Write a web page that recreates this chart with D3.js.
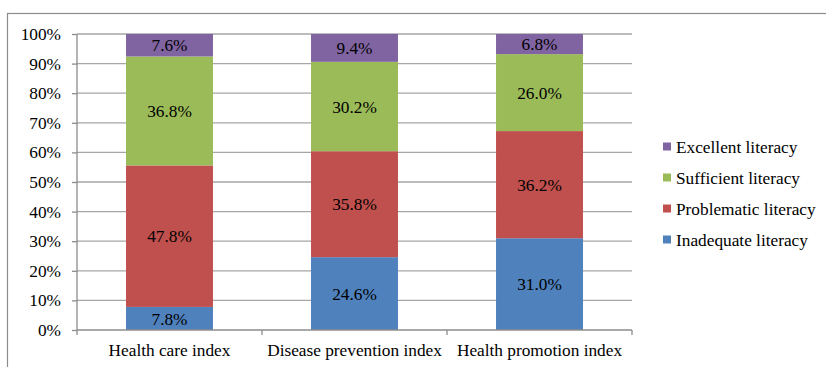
<!DOCTYPE html>
<html>
<head>
<meta charset="utf-8">
<script src="https://cdn.jsdelivr.net/npm/d3@7/dist/d3.min.js"></script>
<style>
  html, body { margin: 0; padding: 0; background: #fff; }
  svg { display: block; }
</style>
</head>
<body>
<svg id="chart" width="826" height="367"></svg>
<script>
// Literacy level shares per index (percent)
const categories = ["Health care index", "Disease prevention index", "Health promotion index"];
const seriesNames = ["Inadequate literacy", "Problematic literacy", "Sufficient literacy", "Excellent literacy"];
const inadequate  = [7.8, 24.6, 31.0];
const problematic = [47.8, 35.8, 36.2];
const sufficient  = [36.8, 30.2, 26.0];
const excellent   = [7.6, 9.4, 6.8];
const yTicks = [0, 10, 20, 30, 40, 50, 60, 70, 80, 90, 100];
const colors = ["#4F81BD", "#C0504D", "#9BBB59", "#8064A2"];

const seriesValues = [inadequate, problematic, sufficient, excellent];
const rows = categories.map((c, i) => {
  const r = { category: c };
  seriesNames.forEach((s, k) => { r[s] = seriesValues[k][i]; });
  return r;
});

const FONT = "'Liberation Serif', 'Times New Roman', Times, serif";
const fontSize = 17.3;

const svg = d3.select("#chart")
  .attr("font-family", FONT);
const plot = { left: 77, right: 632, top: 34, bottom: 330 };

// outer frame
svg.append("rect")
  .attr("x", 7.5).attr("y", 13.5)
  .attr("width", 830).attr("height", 370)
  .attr("fill", "none").attr("stroke", "#8c8c8c").attr("stroke-width", 1.2);

const x = d3.scaleBand()
  .domain(categories)
  .range([plot.left, plot.right])
  .paddingInner(0.53).paddingOuter(0.265);

const y = d3.scaleLinear().domain([0, 100]).range([plot.bottom, plot.top]);

// horizontal gridlines
svg.append("g").selectAll("line")
  .data(yTicks.filter(t => t > 0))
  .join("line")
  .attr("x1", plot.left).attr("x2", plot.right)
  .attr("y1", d => y(d)).attr("y2", d => y(d))
  .attr("stroke", "#a6a6a6").attr("stroke-width", 1.3);

// stacked bars
const stack = d3.stack().keys(seriesNames);
const layers = stack(rows);

const g = svg.append("g");
layers.forEach((layer, k) => {
  g.append("g").selectAll("rect")
    .data(layer)
    .join("rect")
    .attr("x", d => x(d.data.category))
    .attr("width", x.bandwidth())
    .attr("y", d => y(d[1]))
    .attr("height", d => y(d[0]) - y(d[1]))
    .attr("fill", colors[k]);
});

// value labels
layers.forEach((layer, k) => {
  g.append("g").selectAll("text")
    .data(layer)
    .join("text")
    .attr("x", d => x(d.data.category) + x.bandwidth() / 2)
    .attr("y", d => (y(d[0]) + y(d[1])) / 2)
    .attr("dy", "0.35em")
    .attr("text-anchor", "middle")
    .attr("font-family", FONT)
    .attr("font-size", fontSize)
    .attr("fill", "#000")
    .text(d => (d[1] - d[0]).toFixed(1) + "%");
});

// y axis
const yAxis = d3.axisLeft(y)
  .tickValues(yTicks)
  .tickSize(5)
  .tickPadding(11)
  .tickFormat(d => d + "%");
const ya = svg.append("g").attr("transform", `translate(${plot.left},0)`).call(yAxis)
  .attr("font-family", FONT).attr("font-size", fontSize);
ya.select(".domain").attr("stroke", "#8c8c8c").attr("stroke-width", 1.3).attr("d", `M0,${plot.top}V${plot.bottom}`);
ya.selectAll(".tick line").attr("stroke", "#8c8c8c").attr("stroke-width", 1.3);
ya.selectAll(".tick text").attr("fill", "#000");

// x axis: baseline with separators between categories
const xa = svg.append("g");
xa.append("line")
  .attr("x1", plot.left).attr("x2", plot.right)
  .attr("y1", plot.bottom).attr("y2", plot.bottom)
  .attr("stroke", "#8c8c8c").attr("stroke-width", 1.3);
const bounds = [plot.left].concat(categories.map(c => x(c) + x.bandwidth() / 2 + x.step() / 2));
xa.selectAll("line.sep")
  .data(bounds)
  .join("line")
  .attr("class", "sep")
  .attr("x1", d => d).attr("x2", d => d)
  .attr("y1", plot.bottom).attr("y2", plot.bottom + 5)
  .attr("stroke", "#8c8c8c").attr("stroke-width", 1.3);
xa.selectAll("text")
  .data(categories)
  .join("text")
  .attr("x", d => x(d) + x.bandwidth() / 2)
  .attr("y", 356)
  .attr("text-anchor", "middle")
  .attr("font-family", FONT)
  .attr("font-size", fontSize)
  .attr("fill", "#000")
  .text(d => d);

// legend, top entry is the top of the stack
const legendItems = seriesNames.map((s, k) => ({ name: s, color: colors[k] })).reverse();
const legend = svg.append("g").attr("transform", "translate(663,147)");
const item = legend.selectAll("g")
  .data(legendItems)
  .join("g")
  .attr("transform", (d, i) => `translate(0,${i * 31})`);
item.append("rect")
  .attr("x", 0).attr("y", -4.5)
  .attr("width", 8).attr("height", 8)
  .attr("fill", d => d.color);
item.append("text")
  .attr("x", 13).attr("y", 0)
  .attr("dy", "0.35em")
  .attr("font-family", FONT)
  .attr("font-size", fontSize)
  .attr("fill", "#000")
  .text(d => d.name);
</script>
</body>
</html>
